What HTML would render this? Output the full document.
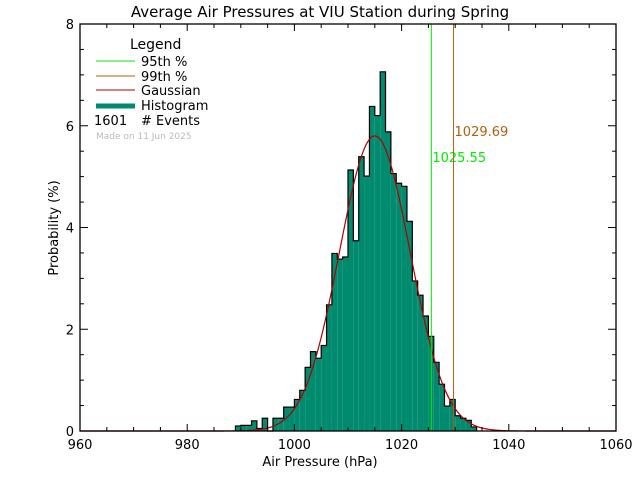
<!DOCTYPE html>
<html><head><meta charset="utf-8"><style>
html,body{margin:0;padding:0;background:#fff;}
svg{display:block;font-family:"DejaVu Sans","Liberation Sans",sans-serif;}
</style></head><body>
<svg id="chart" width="640" height="480" viewBox="0 0 640 480">
<text x="320" y="17" text-anchor="middle" font-size="15" fill="#000">Average Air Pressures at VIU Station during Spring</text>
<g id="bars"></g>
<path id="gauss" fill="none" stroke="#b00000" stroke-width="1.2"/>
<g id="pct"></g>
<rect x="80" y="24" width="536" height="407" fill="none" stroke="#000" stroke-width="1.3"/>
<g id="axes"></g>
<text x="320" y="466" text-anchor="middle" font-size="13">Air Pressure (hPa)</text>
<text transform="translate(58,228) rotate(-90)" text-anchor="middle" font-size="13">Probability (%)</text>
<g>
<text x="130" y="49" font-size="14">Legend</text>
<line x1="96" y1="61" x2="135" y2="61" stroke="#00ee00" stroke-width="1"/>
<text x="141" y="66" font-size="13">95th %</text>
<line x1="96" y1="76" x2="135" y2="76" stroke="#b06010" stroke-width="1"/>
<text x="141" y="81" font-size="13">99th %</text>
<line x1="96" y1="90" x2="135" y2="90" stroke="#b00000" stroke-width="1"/>
<text x="141" y="95" font-size="13">Gaussian</text>
<line x1="96" y1="106" x2="135" y2="106" stroke="#008a6e" stroke-width="5"/>
<text x="141" y="110" font-size="13">Histogram</text>
<text x="94" y="125" font-size="13">1601</text>
<text x="141" y="125" font-size="13"># Events</text>
<text x="96" y="139" font-size="9" fill="#bbbbbb">Made on 11 Jun 2025</text>
</g>
</svg>
<script>
const binStarts=[989,990,991,992,993,994,995,996,997,998,999,1000,1001,1002,1003,1004,1005,1006,1007,1008,1009,1010,1011,1012,1013,1014,1015,1016,1017,1018,1019,1020,1021,1022,1023,1024,1025,1026,1027,1028,1029,1030,1031,1032,1033];
const probs=[0.1,0.11,0.11,0.2,0.05,0.25,0,0.25,0.25,0.47,0.47,0.62,0.8,1.25,1.56,1.43,1.68,2.48,3.49,3.38,3.42,5.13,3.74,5.39,5.01,6.38,6.2,7.06,5.88,5.06,4.87,4.81,4.12,2.95,2.67,2.26,1.86,1.35,0.92,0.49,0.62,0.3,0.25,0.21,0.08];
const gaussMean=1015.0, gaussSigma=6.6, gaussPeak=5.8;
const pctValues=[1025.55,1029.69];
const pctLabels=["1025.55","1029.69"];
const xTicks=[960,980,1000,1020,1040,1060];
const yTicks=[0,2,4,6,8];

const NS="http://www.w3.org/2000/svg";
const X0=80,X1=616,Y0=431,Y1=24,XMIN=960,XMAX=1060,YMAX=8;
const sx=v=>X0+(v-XMIN)*(X1-X0)/(XMAX-XMIN);
const sy=v=>Y0-v*(Y0-Y1)/YMAX;
function mk(tag,attrs,parent){const e=document.createElementNS(NS,tag);for(const k in attrs)e.setAttribute(k,attrs[k]);parent.appendChild(e);return e;}

const bars=document.getElementById('bars');
binStarts.forEach((b,i)=>{
  const r=mk('rect',{x:sx(b),y:sy(probs[i]),width:sx(b+1)-sx(b),height:Y0-sy(probs[i]),fill:'#008a6e'},bars);
  
  
});
// outline step
let d='M'+sx(binStarts[0])+' '+Y0;
binStarts.forEach((b,i)=>{d+=' L'+sx(b)+' '+sy(probs[i])+' L'+sx(b+1)+' '+sy(probs[i]);});
d+=' L'+sx(binStarts[binStarts.length-1]+1)+' '+Y0;
const ol=mk('path',{d:d,fill:'none',stroke:'#000','stroke-width':1.2},bars);



let gd='';
for(let v=XMIN;v<=XMAX;v+=0.25){const p=gaussPeak*Math.exp(-Math.pow(v-gaussMean,2)/(2*gaussSigma*gaussSigma));gd+=(gd?' L':'M')+sx(v).toFixed(2)+' '+sy(p).toFixed(2);}
document.getElementById('gauss').setAttribute('d',gd);

const pct=document.getElementById('pct');
const pctColors=['#00ee00','#b06010'];
const pctLabelY=[162,136];
pctValues.forEach((v,i)=>{
  const l=mk('line',{x1:sx(v),y1:Y1,x2:sx(v),y2:Y0,stroke:pctColors[i],'stroke-width':1},pct);
  
  
  const t=mk('text',{x:sx(v)+1,y:pctLabelY[i],'font-size':13,fill:pctColors[i]},pct);
  t.textContent=pctLabels[i];
  
  
});

const ax=document.getElementById('axes');
for(let v=XMIN;v<=XMAX;v+=5){
  const len=(v%20===0)?7:4;
  mk('line',{x1:sx(v),y1:Y0,x2:sx(v),y2:Y0-len,stroke:'#000'},ax);
  mk('line',{x1:sx(v),y1:Y1,x2:sx(v),y2:Y1+len,stroke:'#000'},ax);
}
xTicks.forEach(v=>{
  const t=mk('text',{x:sx(v),y:449,'text-anchor':'middle','font-size':13},ax);
  t.textContent=v;
  
  
});
for(let v=0;v<=YMAX;v+=0.5){
  const len=(v%2===0)?8:4;
  mk('line',{x1:X0,y1:sy(v),x2:X0+len,y2:sy(v),stroke:'#000'},ax);
  mk('line',{x1:X1,y1:sy(v),x2:X1-len,y2:sy(v),stroke:'#000'},ax);
}
yTicks.forEach(v=>{
  const t=mk('text',{x:74,y:sy(v)+5,'text-anchor':'end','font-size':13},ax);
  t.textContent=v;
  
  
});
</script>
</body></html>
